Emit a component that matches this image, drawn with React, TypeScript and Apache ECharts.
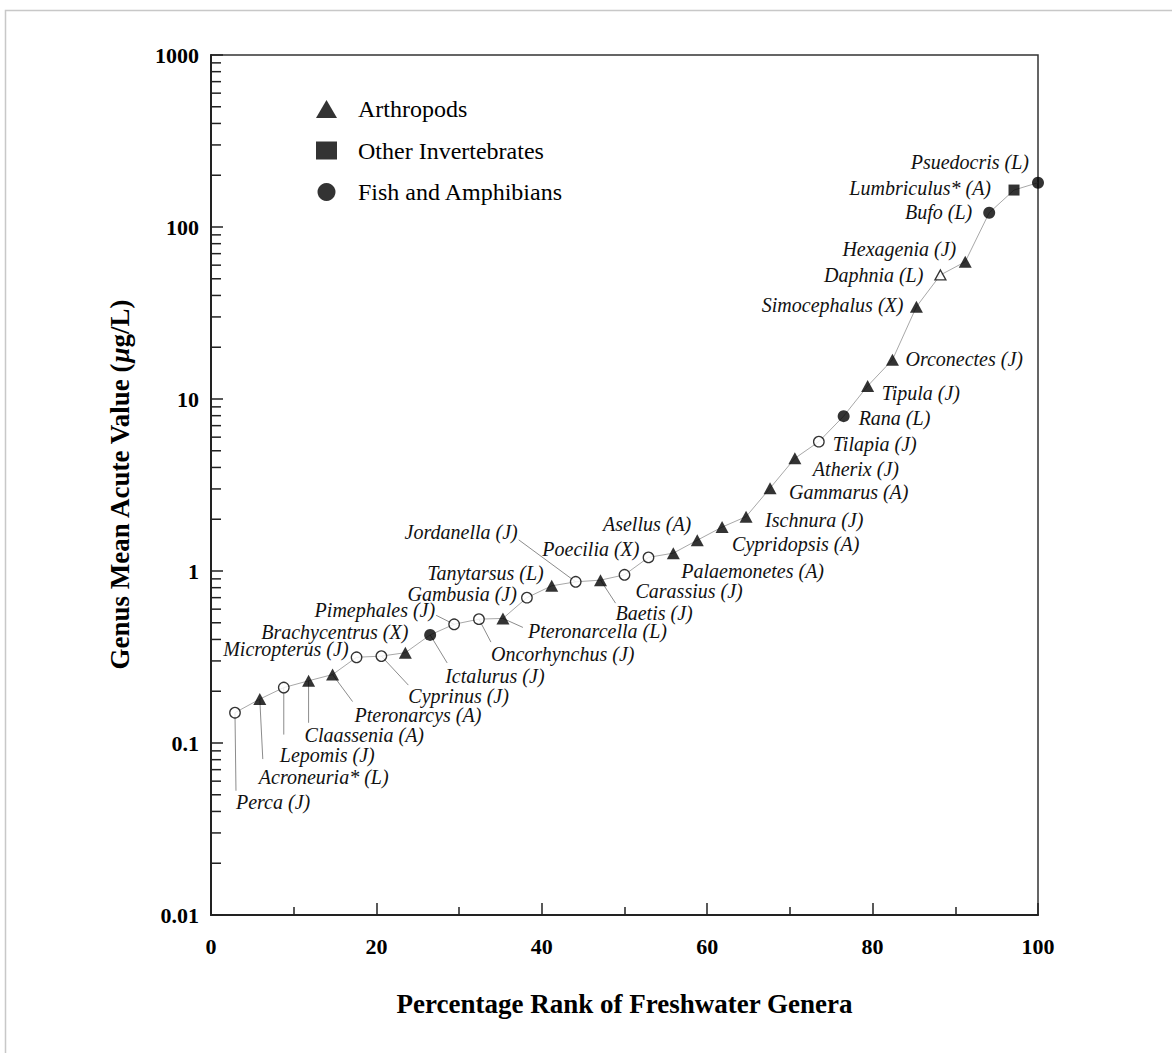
import React, { useEffect, useRef } from 'react';
import * as echarts from 'echarts';

// ---- data ----
const genera = [
  'Perca (J)', 'Acroneuria* (L)', 'Lepomis (J)', 'Claassenia (A)', 'Pteronarcys (A)',
  'Micropterus (J)', 'Cyprinus (J)', 'Brachycentrus (X)', 'Ictalurus (J)', 'Pimephales (J)',
  'Oncorhynchus (J)', 'Pteronarcella (L)', 'Gambusia (J)', 'Tanytarsus (L)', 'Jordanella (J)',
  'Baetis (J)', 'Carassius (J)', 'Poecilia (X)', 'Palaemonetes (A)', 'Asellus (A)',
  'Cypridopsis (A)', 'Ischnura (J)', 'Gammarus (A)', 'Atherix (J)', 'Tilapia (J)',
  'Rana (L)', 'Tipula (J)', 'Orconectes (J)', 'Simocephalus (X)', 'Daphnia (L)',
  'Hexagenia (J)', 'Bufo (L)', 'Lumbriculus* (A)', 'Psuedocris (L)'
];
const percentRank = [
  2.9, 5.9, 8.8, 11.8, 14.7, 17.6, 20.6, 23.5, 26.5, 29.4, 32.4, 35.3, 38.2, 41.2, 44.1, 47.1, 50.0,
  52.9, 55.9, 58.8, 61.8, 64.7, 67.6, 70.6, 73.5, 76.5, 79.4, 82.4, 85.3, 88.2, 91.2, 94.1, 97.1, 100
];
const gmav = [
  0.15, 0.18, 0.21, 0.23, 0.25, 0.315, 0.32, 0.335, 0.425, 0.49, 0.525, 0.53, 0.7, 0.82, 0.865,
  0.885, 0.95, 1.2, 1.27, 1.51, 1.8, 2.07, 3.03, 4.52, 5.65, 7.95, 11.9, 16.9, 34.4, 52.6, 62.8,
  121, 164, 181
];
// A = Arthropods, O = Other Invertebrates, F = Fish and Amphibians
const taxon = [
  'F', 'A', 'F', 'A', 'A', 'F', 'F', 'A', 'F', 'F', 'F', 'A', 'F', 'A', 'F', 'A', 'F',
  'F', 'A', 'A', 'A', 'A', 'A', 'A', 'F', 'F', 'A', 'A', 'A', 'A', 'A', 'F', 'O', 'F'
];
const filled = [
  0, 1, 0, 1, 1, 0, 0, 1, 1, 0, 0, 1, 0, 1, 0, 1, 0,
  0, 1, 1, 1, 1, 1, 1, 0, 1, 1, 1, 1, 0, 1, 1, 1, 1
];
const groupNames = ['Arthropods', 'Other Invertebrates', 'Fish and Amphibians'];
const groupKeys = ['A', 'O', 'F'];
const groupSymbols = ['triangle', 'rect', 'circle'];
const xTickLabels = ['0', '20', '40', '60', '80', '100'];
const yTickLabels = ['0.01', '0.1', '1', '10', '100', '1000'];
const yTickValues = [0.01, 0.1, 1, 10, 100, 1000];
const minorMultipliers = [2, 3, 4, 5, 6, 7, 8, 9];

// ---- label layout (pixel offsets from the point: align, dx, dy, leader end dx, dy) ----
const labelPlace: [string, number, number, number?, number?][] = [
  ['left', 1, 89, 1, 78], ['left', -1, 78, 3, 60], ['left', -4, 67, 0, 47], ['left', -4, 54, 0, 42],
  ['left', 22, 40, 20, 27], ['right', -8, -8], ['left', 27, 40, 27, 29], ['right', 3, -21],
  ['left', 15, 41, 17, 28], ['right', -19, -14, -18, -9], ['left', 12, 35, 12, 23],
  ['left', 25, 13, 20, 9], ['right', -10, -4], ['right', -8, -13], ['right', -58, -50, -57, -42],
  ['left', 15, 33, 15, 23], ['left', 11, 16], ['right', -9, -8], ['left', 8, 18], ['right', -6, -16],
  ['left', 10, 17], ['left', 19, 3], ['left', 19, 4], ['left', 18, 11], ['left', 14, 2],
  ['left', 15, 2], ['left', 14, 7], ['left', 13, -1], ['right', -13, -2], ['right', -17, 0],
  ['right', -9, -13], ['right', -17, -1], ['right', -23, -2], ['right', -9, -21]
];

const SERIF = '"Liberation Serif", "Times New Roman", Times, serif';

export default function App() {
  const ref = useRef<HTMLDivElement>(null);
  useEffect(() => {
    if (!ref.current) return;
    const chart = echarts.init(ref.current, undefined, { renderer: 'svg' });
    const idx = genera.map((_, i) => i);
    const minorTickData: number[][] = [];
    yTickValues.slice(0, 5).forEach((d) =>
      minorMultipliers.forEach((k) => minorTickData.push([0, +(k * d).toPrecision(3)]))
    );

    const scatterSeries = groupKeys.map((key, g) => ({
      type: 'scatter',
      name: groupNames[g],
      symbol: groupSymbols[g],
      symbolSize: key === 'A' ? [13, 12] : key === 'O' ? 11 : 12,
      z: 5,
      clip: false,
      itemStyle: { color: '#000' },
      data: idx
        .filter((i) => taxon[i] === key)
        .map((i) => ({
          value: [percentRank[i], gmav[i]],
          symbolSize: filled[i] ? undefined : key === 'A' ? [11, 10] : 10.5,
          itemStyle: filled[i]
            ? { color: '#000' }
            : { color: '#fff', borderColor: '#000', borderWidth: 1.3 },
        })),
    }));

    chart.setOption({
      animation: false,
      backgroundColor: '#fff',
      textStyle: { fontFamily: SERIF },
      grid: {
        left: 211, right: 134, top: 55, bottom: 138,
        show: true, borderColor: '#333', borderWidth: 1.5, backgroundColor: 'transparent',
      },
      graphic: [
        {
          type: 'rect', silent: true, z: -1,
          shape: { x: 5.5, y: 10.5, width: 1400, height: 1300 },
          style: { fill: 'none', stroke: '#c8c8c8', lineWidth: 1.5 },
        },
      ],
      legend: {
        data: groupNames.map((n, g) => ({ name: n, icon: groupSymbols[g] })),
        orient: 'vertical',
        left: 311, top: 92,
        itemWidth: 21, itemHeight: 18, itemGap: 17.5,
        selectedMode: false,
        formatter: (name: string) => `{t|${name}}`,
        textStyle: {
          fontFamily: SERIF, fontSize: 24, color: '#000',
          rich: { t: { fontFamily: SERIF, fontSize: 24, color: '#000', padding: [0, 0, 0, 16] } },
        },
      },
      xAxis: {
        type: 'value', min: 0, max: 100, interval: 20,
        name: 'Percentage Rank of Freshwater Genera',
        nameLocation: 'middle', nameGap: 75,
        nameTextStyle: { fontFamily: SERIF, fontSize: 27, fontWeight: 'bold', color: '#000' },
        axisLine: { onZero: false, lineStyle: { color: '#222', width: 2 } },
        axisTick: { inside: true, length: 12, lineStyle: { color: '#222', width: 1.5 } },
        minorTick: { show: true, splitNumber: 2, length: 8, lineStyle: { color: '#222', width: 1.5 } },
        splitLine: { show: false },
        axisLabel: {
          margin: 20, fontFamily: SERIF, fontSize: 22, fontWeight: 'bold', color: '#000',
          formatter: (v: number) => xTickLabels[Math.round(v / 20)] ?? String(v),
        },
      },
      yAxis: {
        type: 'log', logBase: 10, min: 0.01, max: 1000,
        name: 'Genus Mean Acute Value ({i|μ}g/L)',
        nameLocation: 'middle', nameGap: 78, nameRotate: 90,
        nameTextStyle: {
          fontFamily: SERIF, fontSize: 27, fontWeight: 'bold', color: '#000',
          rich: { i: { fontFamily: SERIF, fontSize: 27, fontWeight: 'bold', fontStyle: 'italic', color: '#000' } },
        },
        axisLine: { lineStyle: { color: '#222', width: 2 } },
        axisTick: { inside: true, length: 12, lineStyle: { color: '#222', width: 1.5 } },
        splitLine: { show: false },
        axisLabel: {
          margin: 12, fontFamily: SERIF, fontSize: 22, fontWeight: 'bold', color: '#000',
          formatter: (v: number) => {
            const k = yTickValues.findIndex((t) => Math.abs(Math.log10(t) - Math.log10(v)) < 1e-6);
            return k >= 0 ? yTickLabels[k] : '';
          },
        },
      },
      series: [
        {
          type: 'custom',
          name: 'minor ticks',
          z: 4,
          silent: true,
          clip: false,
          data: minorTickData,
          renderItem: (params: any, api: any) => {
            const pt = api.coord([api.value(0), api.value(1)]);
            return {
              type: 'line',
              shape: { x1: pt[0], y1: pt[1], x2: pt[0] + 10, y2: pt[1] },
              style: { stroke: '#222', lineWidth: 1.5 },
            };
          },
        },
        {
          type: 'line',
          name: 'curve',
          data: idx.map((i) => [percentRank[i], gmav[i]]),
          symbol: 'none',
          z: 1,
          clip: false,
          lineStyle: { color: '#a8a8a8', width: 1 },
          silent: true,
        },
        {
          type: 'custom',
          name: 'labels',
          z: 3,
          silent: true,
          clip: false,
          data: idx.map((i) => [percentRank[i], gmav[i]]),
          renderItem: (params: any, api: any) => {
            const i = params.dataIndex;
            const pt = api.coord([api.value(0), api.value(1)]);
            const p = labelPlace[i];
            const children: any[] = [];
            if (p[3] !== undefined) {
              children.push({
                type: 'line',
                shape: { x1: pt[0], y1: pt[1], x2: pt[0] + (p[3] as number), y2: pt[1] + (p[4] as number) },
                style: { stroke: '#8c8c8c', lineWidth: 1 },
              });
            }
            children.push({
              type: 'text',
              x: pt[0] + p[1],
              y: pt[1] + p[2],
              style: {
                text: genera[i],
                align: p[0],
                verticalAlign: 'middle',
                fontFamily: SERIF,
                fontSize: 20,
                fontStyle: 'italic',
                fill: '#111',
              },
            });
            return { type: 'group', children };
          },
        },
        ...scatterSeries,
      ],
    });
    return () => chart.dispose();
  }, []);
  return (
    <div
      ref={ref}
      style={{ position: 'fixed', left: 0, top: 0, width: 1172, height: 1053, background: '#fff' }}
    />
  );
}
